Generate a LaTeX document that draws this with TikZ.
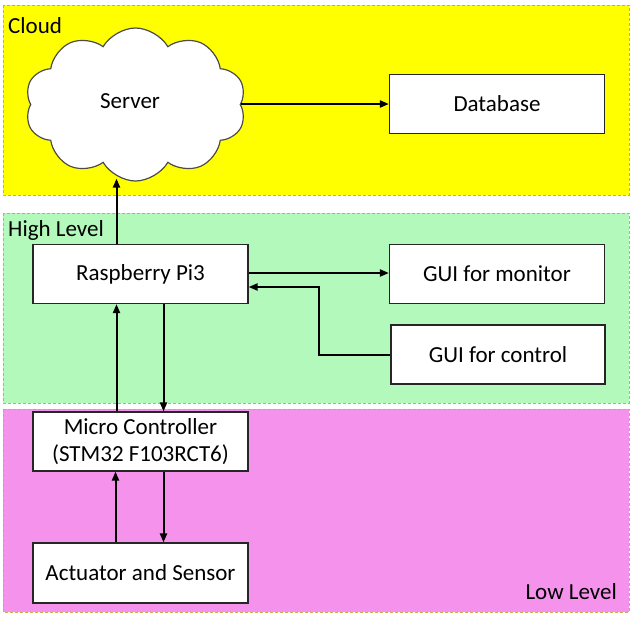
\documentclass[tikz,border=0pt]{standalone}
\usepackage{fontspec}
\setmainfont{Carlito}
\usepackage{xcolor}
\usetikzlibrary{calc,arrows.meta,shapes.symbols}
\definecolor{cloudyellow}{HTML}{FFFF00}
\definecolor{highgreen}{HTML}{B3F9BC}
\definecolor{lowpink}{HTML}{F492EC}
\definecolor{zoneline}{HTML}{D6A84E}
\begin{document}
\begin{tikzpicture}[x=1pt,y=-1pt,
    font=\fontsize{23}{27}\selectfont,
    zone/.style={draw=zoneline,line width=1pt,dash pattern=on 3pt off 2pt},
    box/.style={draw=black!85,fill=white,line width=1.2pt,minimum width=215pt,minimum height=59pt,inner sep=0pt,align=center},
    arr/.style={line width=2pt,-{Triangle[length=9pt,width=7pt]}}
]
    \useasboundingbox (0,0) rectangle (634,616);
    % layers
    \draw[zone,fill=cloudyellow] (3,5) rectangle (629,195);
    \draw[zone,fill=highgreen] (3,213) rectangle (629,403);
    \draw[zone,fill=lowpink] (3,409) rectangle (629,612);
    \node[anchor=west,inner sep=0pt] (lcloud) at (8,26) {Cloud};
    \node[anchor=west,inner sep=0pt] (lhigh) at (8,230) {High Level};
    \node[anchor=east,inner sep=0pt] (llow) at (617,592) {Low Level};
    % blocks
    \node[cloud,cloud puffs=10,cloud puff arc=120,aspect=1.45,draw=black!70,fill=white,line width=1.2pt,
          minimum width=221pt,minimum height=153pt,inner sep=0pt] (srv) at (135.5,104.5) {};
    \node (srvtext) at (130,101) {Server};
    \node[box] (db) at (497,104) {Database};
    \node[box] (rpi) at (140.5,274) {Raspberry Pi3};
    \node[box] (mon) at (497,274) {GUI for monitor};
    \node[box,minimum width=214pt] (ctl) at (498,354.5) {GUI for control};
    \node[box] (mcu) at (140.5,441.5) {Micro Controller\\(STM32 F103RCT6)};
    \node[box,minimum height=60pt] (act) at (140.5,573) {Actuator and Sensor};
    \coordinate (bend) at ($(rpi.east)!0.5!(mon.west)$);
    % links
    \draw[arr] (srv.east |- db.west) -- (db.west);
    \draw[arr] ([xshift=-24pt]rpi.north) -- ([xshift=-24pt,yshift=3pt]rpi.north |- srv.south);
    \draw[arr] ([yshift=1pt]rpi.east) -- ([yshift=1pt]mon.west);
    \draw[arr] (ctl.west) -- (ctl.west -| bend) |- ([yshift=-13pt]rpi.east);
    \draw[arr] ([xshift=-24pt]mcu.north) -- ([xshift=-24pt]rpi.south);
    \draw[arr] ([xshift=23pt]rpi.south) -- ([xshift=23pt]mcu.north);
    \draw[arr] ([xshift=-25pt]act.north) -- ([xshift=-25pt]mcu.south);
    \draw[arr] ([xshift=23pt]mcu.south) -- ([xshift=23pt]act.north);
\end{tikzpicture}
\end{document}
